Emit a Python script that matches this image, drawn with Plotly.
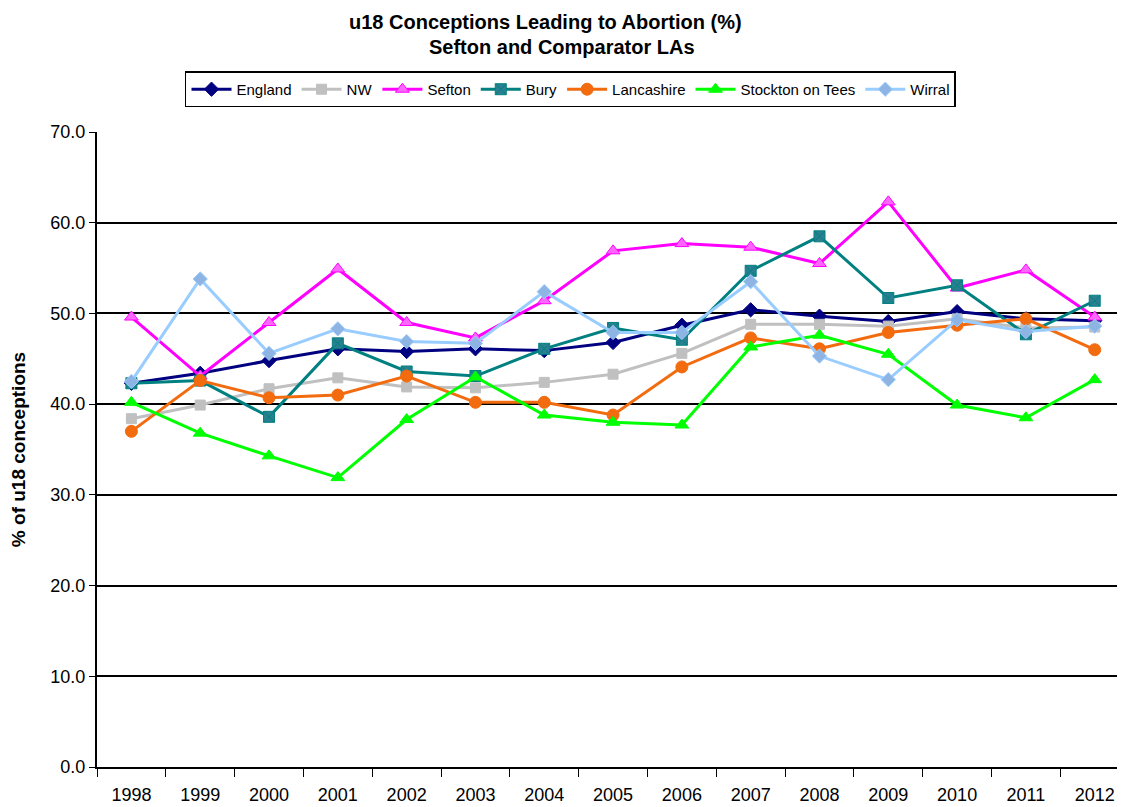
import plotly.graph_objects as go

years = ["1998", "1999", "2000", "2001", "2002", "2003", "2004", "2005",
         "2006", "2007", "2008", "2009", "2010", "2011", "2012"]

england = [42.3, 43.4, 44.8, 46.1, 45.8, 46.1, 45.9, 46.8, 48.7, 50.4, 49.7, 49.1, 50.2, 49.4, 49.2]
nw = [38.4, 39.9, 41.7, 42.9, 41.9, 41.8, 42.4, 43.3, 45.6, 48.8, 48.8, 48.6, 49.4, 48.4, 48.5]
sefton = [49.6, 43.1, 49.0, 54.9, 49.0, 47.3, 51.4, 56.9, 57.7, 57.3, 55.5, 62.3, 52.8, 54.8, 49.6]
bury = [42.3, 42.6, 38.6, 46.7, 43.6, 43.1, 46.1, 48.4, 47.1, 54.7, 58.5, 51.7, 53.1, 47.7, 51.4]
lancashire = [37.0, 42.6, 40.7, 41.0, 43.1, 40.2, 40.2, 38.8, 44.1, 47.3, 46.1, 47.9, 48.7, 49.4, 46.0]
stockton = [40.2, 36.8, 34.3, 31.9, 38.3, 43.0, 38.8, 38.0, 37.7, 46.3, 47.6, 45.5, 39.9, 38.5, 42.7]
wirral = [42.5, 53.8, 45.6, 48.3, 46.9, 46.7, 52.4, 47.9, 47.9, 53.5, 45.3, 42.7, 49.3, 48.0, 48.6]

title_lines = ["u18 Conceptions Leading to Abortion (%)", "Sefton and Comparator LAs"]
y_title = "% of u18 conceptions"

series = [
    ("England", england, "#000080", "#000080", "diamond", 11),
    ("NW", nw, "#C0C0C0", "#C0C0C0", "square", 10),
    ("Sefton", sefton, "#FF00FF", "#FF66FF", "triangle-up", 12),
    ("Bury", bury, "#008080", "#2A8090", "square-x", 11),
    ("Lancashire", lancashire, "#F26B0F", "#F26B0F", "circle", 12),
    ("Stockton on Tees", stockton, "#00FF00", "#00FF00", "triangle-up", 12),
    ("Wirral", wirral, "#99CCFF", "#8EB4E3", "diamond", 11),
]

FONT = "Liberation Sans, Arial, sans-serif"

fig = go.Figure()
for name, vals, lc, mc, sym, size in series:
    fig.add_trace(go.Scatter(
        x=years, y=vals, name=name, mode="lines+markers",
        line=dict(color=lc, width=3),
        marker=dict(symbol=sym, size=size, color=mc,
                    line=dict(color=lc, width=1)),
    ))

# page body has an 8px default margin; compensate so the plot lands where the reference has it
fig.update_layout(
    width=1117, height=799,
    paper_bgcolor="white", plot_bgcolor="white",
    margin=dict(l=89, r=0, t=124, b=40, autoexpand=False),
    legend=dict(
        orientation="h", x=0.4606, xanchor="center", y=1.067, yanchor="middle",
        bordercolor="black", borderwidth=1.5, bgcolor="white",
        font=dict(family=FONT, size=15, color="black"),
        itemwidth=40,
    ),
    font=dict(family=FONT, color="black"),
    showlegend=True,
    annotations=[
        dict(text="<b>" + title_lines[0] + "</b>", xref="paper", yref="paper",
             x=(545 - 97) / 1028, y=1 + (132 - 22) / 635, xanchor="center", yanchor="middle",
             showarrow=False, font=dict(family=FONT, size=20, color="black")),
        dict(text="<b>" + title_lines[1] + "</b>", xref="paper", yref="paper",
             x=(562 - 97) / 1028, y=1 + (132 - 47) / 635, xanchor="center", yanchor="middle",
             showarrow=False, font=dict(family=FONT, size=20, color="black")),
    ],
)

fig.update_xaxes(
    type="category", range=[-0.5, 14.44],
    showline=True, linecolor="black", linewidth=2,
    ticks="outside", tickson="boundaries", ticklen=8, tickcolor="black", tickwidth=1,
    ticklabelstandoff=10,
    showgrid=False, tickfont=dict(family=FONT, size=18, color="black"),
)
fig.update_yaxes(
    range=[0, 70], dtick=10, tickformat=".1f",
    showline=True, linecolor="black", linewidth=2,
    ticks="outside", ticklen=6, tickcolor="black",
    showgrid=True, gridcolor="black", gridwidth=1.5,
    zeroline=False,
    tickfont=dict(family=FONT, size=18, color="black"),
    title=dict(text="<b>" + y_title + "</b>", standoff=22,
               font=dict(family=FONT, size=19, color="black")),
)

fig.write_html("out.html")
